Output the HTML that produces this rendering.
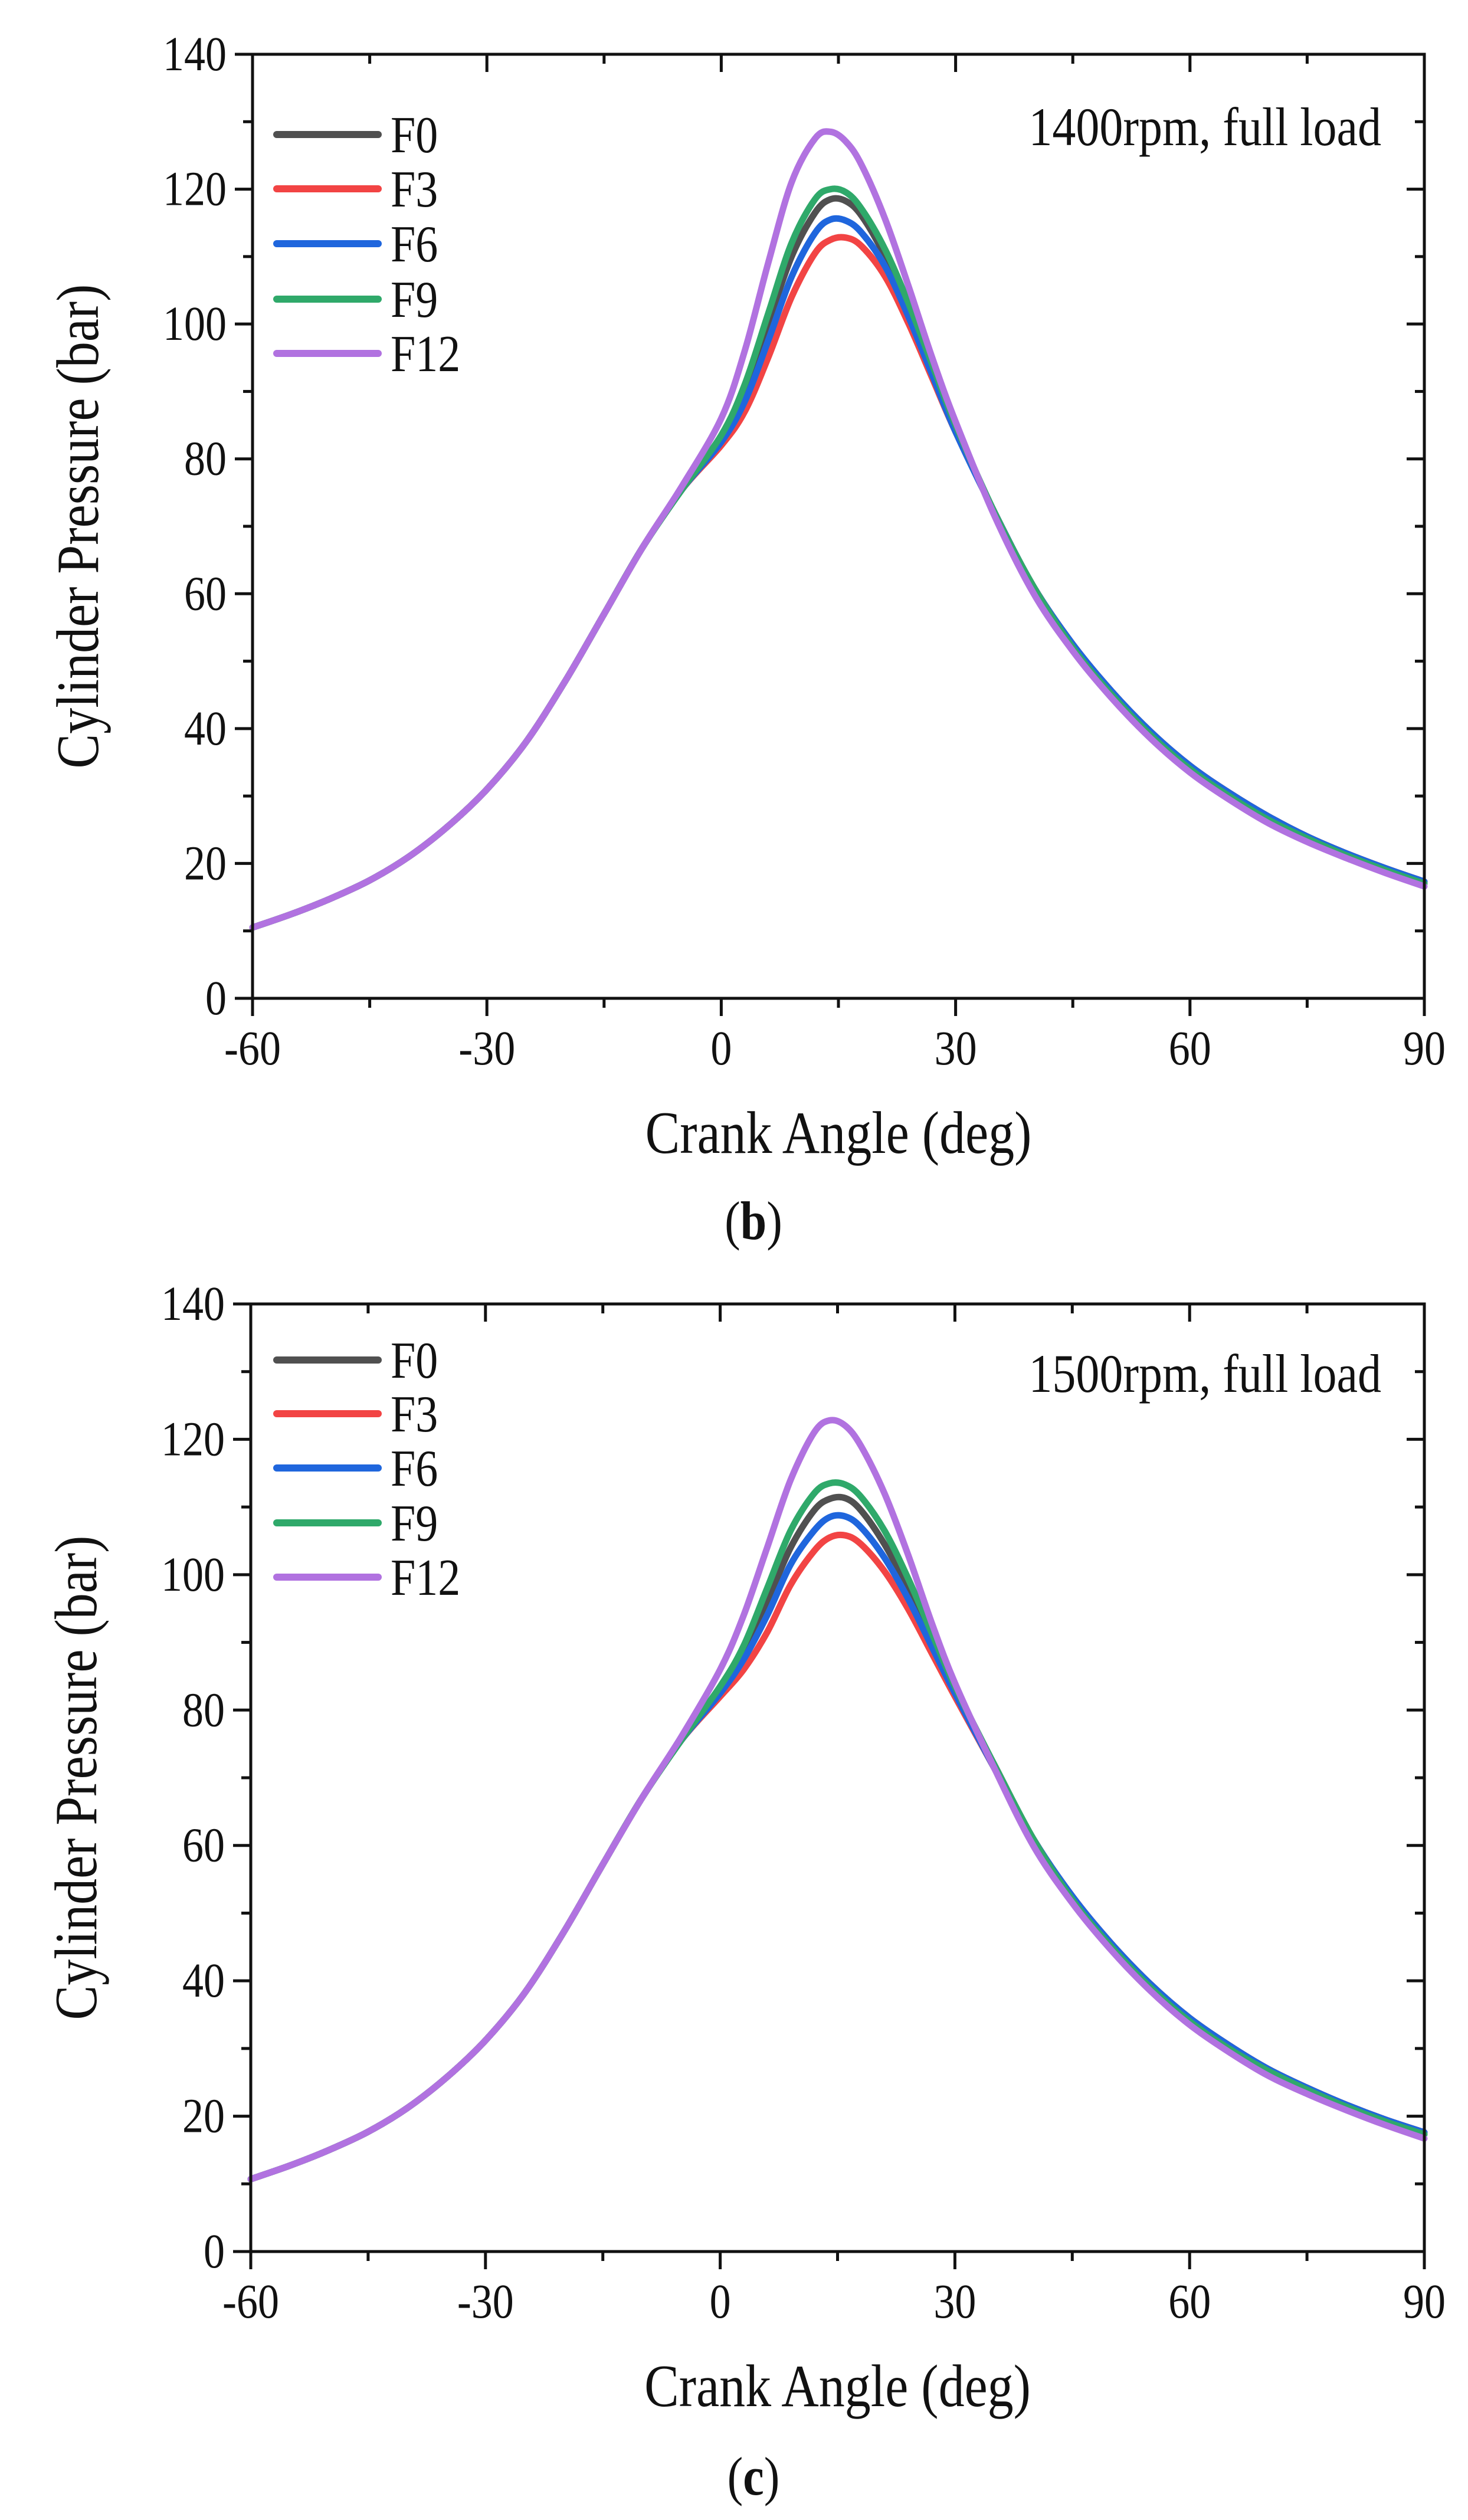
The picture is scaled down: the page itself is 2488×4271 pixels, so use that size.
<!DOCTYPE html>
<html><head><meta charset="utf-8"><style>
html,body{margin:0;padding:0;background:#fff;}
svg{display:block;}
text{font-family:"Liberation Serif",serif;fill:#111;}
</style></head>
<body>
<svg id="root" width="2488" height="4271" viewBox="0 0 2488 4271" xmlns="http://www.w3.org/2000/svg"></svg>
<script>
const xs = [-60,-55,-50,-45,-40,-35,-30,-25,-20,-15,-10,-5,0,3,6,9,12,14,16,18,21,24,27,30,35,40,45,50,55,60,65,70,75,80,85,90];
const seriesNames = ["F0","F3","F6","F9","F12"];
const seriesColors = ["#505050","#f24444","#1f66dd","#2fa96a","#b172e0"];
const xTicks = [-60,-30,0,30,60,90];
const yTicks = [0,20,40,60,80,100,120,140];
// 1400 rpm
const b_F0  = [10.5,12.5,14.8,17.5,21,25.5,31,38,47,57,67,75.5,83,90,100,110,116.5,118.5,118.2,116,110,102,93,84.5,72,61,52.5,45.5,39.5,34.5,30.5,27,24,21.5,19.3,17.3];
const b_F3  = [10.5,12.5,14.8,17.5,21,25.5,31,38,47,57,67,75.5,82,87,95,104,110.5,112.5,112.8,111.5,107,100,92,84,72,61,52.5,45.5,39.5,34.5,30.5,27,24,21.5,19.3,17.3];
const b_F6  = [10.5,12.5,14.8,17.5,21,25.5,31,38,47,57,67,75.5,82.5,88.5,97.5,107,113.5,115.5,115.3,113.5,108.5,101,92.5,84,72,61,52.5,45.5,39.5,34.5,30.5,27,24,21.5,19.3,17.3];
const b_F9  = [10.5,12.5,14.8,17.5,21,25.5,31,38,47,57,67,75.5,83.5,91,101.5,112,118.5,120,119.5,117,111,103,94,85,72,61,52,45,39,34,30,26.5,23.7,21.2,19,17];
const b_F12 = [10.5,12.5,14.8,17.5,21,25.5,31,38,47,57,67,76,86,96,109,121,127.5,128.5,127,123.5,115.5,105.5,95,85.5,71.5,60,51.5,44.5,38.5,33.5,29.5,26,23.2,20.8,18.6,16.6];
// 1500 rpm
const c_F0  = [10.7,12.7,15,17.7,21.2,25.7,31.2,38.2,47.2,57.2,67,75.5,83,88.5,96,104,109.5,111.2,111.3,109.5,104.5,98,90.5,83,72,61,52.5,45.5,39.5,34.5,30.5,27,24.2,21.7,19.5,17.6];
const c_F3  = [10.7,12.7,15,17.7,21.2,25.7,31.2,38.2,47.2,57.2,67,75.5,82,86,91.5,98.5,103.5,105.5,105.8,104.5,100.5,95,88.5,82,71.5,61,52.5,45.5,39.5,34.5,30.5,27,24.2,21.7,19.5,17.6];
const c_F6  = [10.7,12.7,15,17.7,21.2,25.7,31.2,38.2,47.2,57.2,67,75.5,82.5,87.5,94,101.5,106.5,108.5,108.6,107,102.5,96.5,89.5,82.5,71.5,61,52.5,45.5,39.5,34.5,30.5,27,24.2,21.7,19.5,17.6];
const c_F9  = [10.7,12.7,15,17.7,21.2,25.7,31.2,38.2,47.2,57.2,67,75.5,83.5,89.5,98,106.5,112,113.5,113.3,111.5,106.5,99.5,91.5,83.5,72,61,52,45,39,34,30,26.7,23.9,21.4,19.2,17.3];
const c_F12 = [10.7,12.7,15,17.7,21.2,25.7,31.2,38.2,47.2,57.2,67,76,86,94,104,114,121,122.8,122,119,112,103,93,84,71.5,60,51.5,44.5,38.5,33.5,29.5,26,23.3,20.9,18.7,16.7];

const NS = "http://www.w3.org/2000/svg";
const root = document.getElementById('root');
const SY = 1.15;
function mk(tag, attrs, parent){const e=document.createElementNS(NS,tag);for(const k in attrs)e.setAttribute(k,attrs[k]);(parent||root).appendChild(e);return e;}
function txt(x,y,size,anchor,parent,extra){
  const a={x:0,y:0,'font-size':size,'text-anchor':anchor,transform:`translate(${x},${y}) ${extra||''} scale(1,${SY})`};
  return mk('text',a,parent);
}

function smoothPath(pts){
  let d="M"+pts[0][0].toFixed(1)+","+pts[0][1].toFixed(1);
  for(let i=0;i<pts.length-1;i++){
    const p0=pts[Math.max(0,i-1)],p1=pts[i],p2=pts[i+1],p3=pts[Math.min(pts.length-1,i+2)];
    const c1x=p1[0]+(p2[0]-p0[0])/6,c1y=p1[1]+(p2[1]-p0[1])/6;
    const c2x=p2[0]-(p3[0]-p1[0])/6,c2y=p2[1]-(p3[1]-p1[1])/6;
    d+=" C"+c1x.toFixed(1)+","+c1y.toFixed(1)+" "+c2x.toFixed(1)+","+c2y.toFixed(1)+" "+p2[0].toFixed(1)+","+p2[1].toFixed(1);
  }
  return d;
}

function chart(cfg){
  const g=mk('g',{});
  
  
  const L=cfg.left,R=cfg.right,T=cfg.top,B=cfg.bottom;
  const sx=v=>L+(v+60)/150*(R-L);
  const sy=v=>B-v/140*(B-T);
  cfg.data.forEach((arr,i)=>{
    const pts=xs.map((x,j)=>[sx(x),sy(arr[j])]);
    const p=mk('path',{d:smoothPath(pts),fill:'none',stroke:seriesColors[i],'stroke-width':11,'stroke-linejoin':'round','stroke-linecap':'round'},g);
    
    
  });
  const fr=mk('rect',{x:L,y:T,width:R-L,height:B-T,fill:'none',stroke:'#111','stroke-width':5},g);
  
  
  for(let v=0;v<=140;v+=10){
    const major=v%20===0, len=major?30:16, y=sy(v);
    mk('line',{x1:L-len,y1:y,x2:L,y2:y,stroke:'#111','stroke-width':5},g);
    mk('line',{x1:R-len,y1:y,x2:R,y2:y,stroke:'#111','stroke-width':5},g);
  }
  yTicks.forEach(v=>{
    const t=txt(L-44,sy(v)+27,72,'end',g);
    t.textContent=v;
    
    
  });
  for(let v=-60;v<=90;v+=15){
    const major=v%30===0, len=major?30:16, x=sx(v);
    mk('line',{x1:x,y1:B,x2:x,y2:B+len,stroke:'#111','stroke-width':5},g);
    mk('line',{x1:x,y1:T,x2:x,y2:T+len,stroke:'#111','stroke-width':5},g);
  }
  xTicks.forEach(v=>{
    const t=txt(sx(v),B+112,72,'middle',g);
    t.textContent=v;
    
    
  });
  const yt=mk('text',{x:0,y:0,'text-anchor':'middle','font-size':88,transform:`translate(${L-262},${(T+B)/2}) rotate(-90) scale(1.0,${SY})`},g);
  yt.textContent='Cylinder Pressure (bar)';
  
  
  const xt=txt((L+R)/2,B+262,88,'middle',g);
  xt.textContent='Crank Angle (deg)';
  
  
  const an=txt(2341,cfg.annY,80,'end',g);
  an.textContent=cfg.annotation;
  
  
  cfg.legendY.forEach((y,i)=>{
    const lg=mk('g',{},g);
    
    
    mk('line',{x1:469,y1:y,x2:641,y2:y,stroke:seriesColors[i],'stroke-width':12,'stroke-linecap':'round'},lg);
    const t=txt(662,y+30,76,'start',lg);
    t.textContent=seriesNames[i];
  });
  const cap=txt(1277,cfg.capY,80,'middle',g);
  
  
  cap.innerHTML='(<tspan font-weight="bold">'+cfg.cap+'</tspan>)';
}

chart({name:'chart-1400rpm',left:428,right:2414,top:92,bottom:1692,data:[b_F0,b_F3,b_F6,b_F9,b_F12],
  annotation:'1400rpm, full load',annY:246,legendY:[228,320,413,507,599],cap:'b',capY:2100});
chart({name:'chart-1500rpm',left:425,right:2414,top:2210,bottom:3816,data:[c_F0,c_F3,c_F6,c_F9,c_F12],
  annotation:'1500rpm, full load',annY:2359,legendY:[2305,2396,2488,2581,2673],cap:'c',capY:4228});
</script>
</body></html>
